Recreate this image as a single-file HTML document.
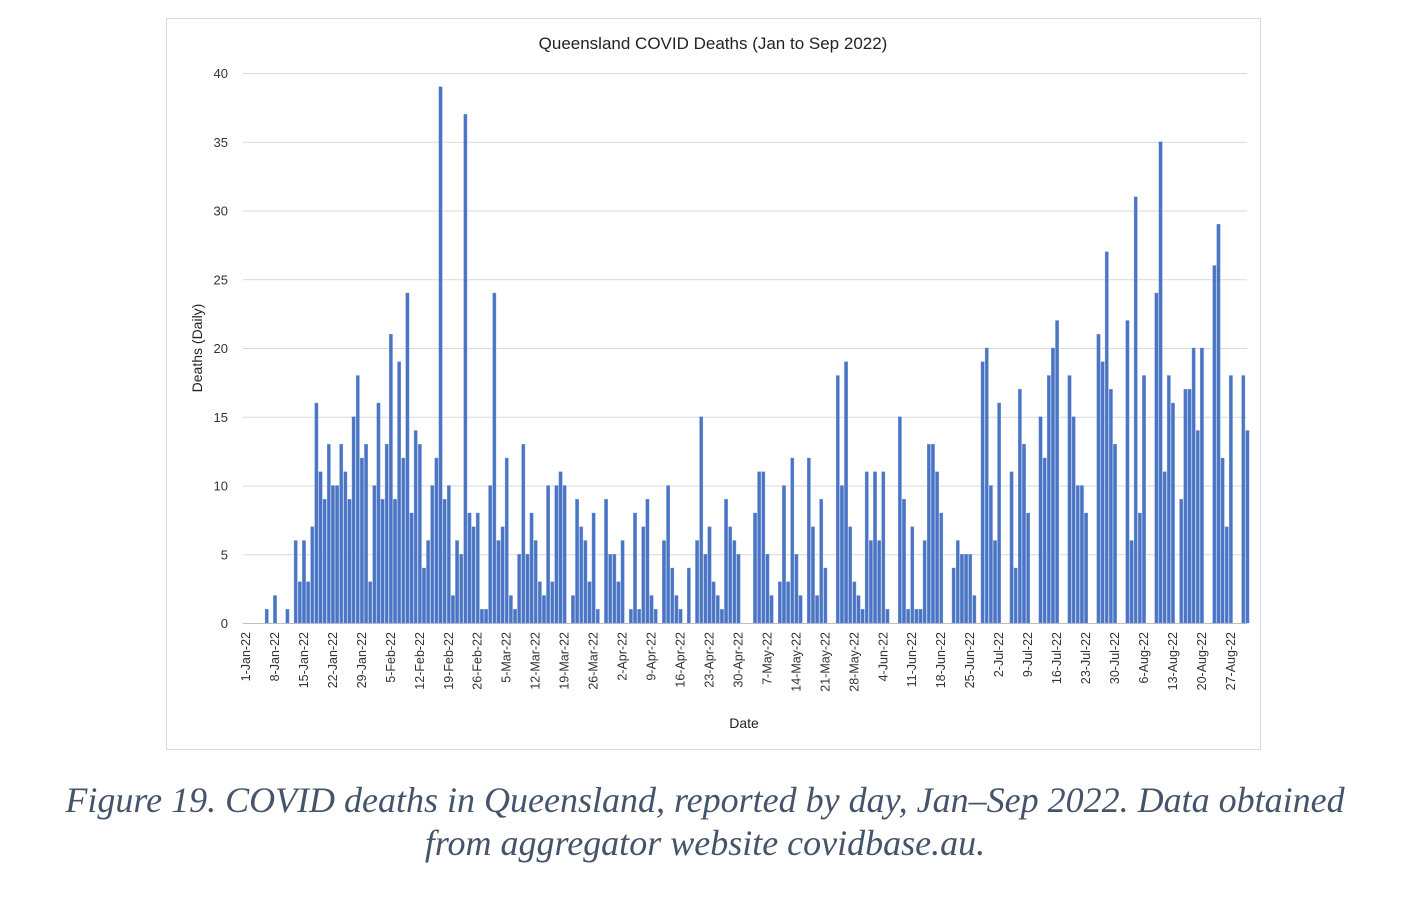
<!DOCTYPE html>
<html><head><meta charset="utf-8"><style>
html,body{margin:0;padding:0;background:#fff;width:1410px;height:906px;overflow:hidden}
svg{display:block}
.cap{position:absolute;left:0;width:1410px;text-align:center;font-family:"Liberation Serif",serif;font-style:italic;font-size:36px;color:#44546a;line-height:43px}
</style></head><body>
<svg id="chart" width="1410" height="906" style="position:absolute;left:0;top:0">
<rect x="166.5" y="18.5" width="1094" height="731" fill="#fff" stroke="#d9d9d9"/>
<text x="713" y="49" text-anchor="middle" font-family="Liberation Sans, sans-serif" font-size="17" fill="#222">Queensland  COVID Deaths (Jan to Sep 2022)</text>
<text transform="translate(202,348) rotate(-90)" text-anchor="middle" font-family="Liberation Sans, sans-serif" font-size="14" fill="#222">Deaths (Daily)</text>
<text x="744" y="728" text-anchor="middle" font-family="Liberation Sans, sans-serif" font-size="14" fill="#222">Date</text>
<g id="grid"></g><g id="bars"></g><g id="xlabels"></g>
</svg>
<div class="cap" style="top:779px">Figure 19. COVID deaths in Queensland, reported by day, Jan–Sep 2022. Data obtained<br>from aggregator website covidbase.au.</div>
<script>
const yTicks=[0,5,10,15,20,25,30,35,40];
const months=["Jan","Feb","Mar","Apr","May","Jun","Jul","Aug","Sep"];
const earlyDeaths=[0,0,0,0,0,1,0,2,0,0,1,0];
const janFebDeaths=[6,3,6,3,7,16,11,9,13,10,10,13,11,9,15,18,12,13,3,10,16,9,13,21,9,19,12,24,8,14,13,4,6,10,12,39];
const febAprDeaths=[9,10,2,6,5,37,8,7,8,1,1,10,24,6,7,12,2,1,5,13,5,8,6,3,2,10,3,10,11,10,0,2,9,7,6,3,8,1,0,9,5,5,3,6,0,1,8,1,7,9];
const aprMayDeaths=[2,1,0,6,10,4,2,1,0,4,0,6,15,5,7,3,2,1,9,7,6,5,0,0,0,8,11,11,5,2,0,3,10,3,12,5,2,0,12,7,2,9,4,0,0,18,10,19,7];
const mayJulDeaths=[3,2,1,11,6,11,6,11,1,0,0,15,9,1,7,1,1,6,13,13,11,8,0,0,4,6,5,5,5,2,0,19,20,10,6,16,0,0,11,4,17,13,8,0,0,15,12,18,20];
const julAugDeaths=[22,0,0,18,15,10,10,8,0,0,21,19,27,17,13,0,0,22,6,31,8,18,0,0,24,35,11,18,16,0,9,17,17,20,14,20,0,0,26,29,12,7,18,0,0,18,14];
const deaths=[].concat(earlyDeaths,janFebDeaths,febAprDeaths,aprMayDeaths,mayJulDeaths,julAugDeaths);
const NS="http://www.w3.org/2000/svg";
const x0=244,dayW=4.138,y0=623,yMax=40,plotH=550,plotR=1247;
const xScale=d=>x0+d*dayW;
const yScale=v=>y0-v/yMax*plotH;
const grid=document.getElementById('grid');
yTicks.forEach(t=>{
 const l=document.createElementNS(NS,'line');
 
 
 l.setAttribute('x1',243);l.setAttribute('x2',plotR);
 l.setAttribute('y1',yScale(t)+0.5);l.setAttribute('y2',yScale(t)+0.5);
 l.setAttribute('stroke',t===0?'#bfbfbf':'#d9d9d9');l.setAttribute('stroke-width',1);
 grid.appendChild(l);
 const tx=document.createElementNS(NS,'text');
 
 
 tx.setAttribute('x',228);tx.setAttribute('y',yScale(t)+5);
 tx.setAttribute('text-anchor','end');tx.setAttribute('font-family','Liberation Sans, sans-serif');
 tx.setAttribute('font-size','13');tx.setAttribute('fill','#333');
 tx.textContent=t;grid.appendChild(tx);
});
const bars=document.getElementById('bars');
deaths.forEach((v,d)=>{
 if(v<=0)return;
 const r=document.createElementNS(NS,'rect');
 
 
 r.setAttribute('x',xScale(d)+0.4);r.setAttribute('width',3.3);
 r.setAttribute('y',yScale(v));r.setAttribute('height',y0-yScale(v));
 r.setAttribute('fill','#4a74c4');r.setAttribute('stroke','#7a9ad6');r.setAttribute('stroke-width','0.4');
 bars.appendChild(r);
});
const xl=document.getElementById('xlabels');
const start=new Date(2022,0,1);
for(let d=0;d<deaths.length;d+=7){
 const dt=new Date(start.getTime()+d*86400000);
 const lab=dt.getDate()+'-'+months[dt.getMonth()]+'-22';
 const tx=document.createElementNS(NS,'text');
 
 
 const x=xScale(d)+1.5+4.5;
 tx.setAttribute('transform','translate('+x+',632) rotate(-90)');
 tx.setAttribute('text-anchor','end');tx.setAttribute('font-family','Liberation Sans, sans-serif');
 tx.setAttribute('font-size','12.5');tx.setAttribute('fill','#333');
 tx.textContent=lab;xl.appendChild(tx);
}
</script>
</body></html>
